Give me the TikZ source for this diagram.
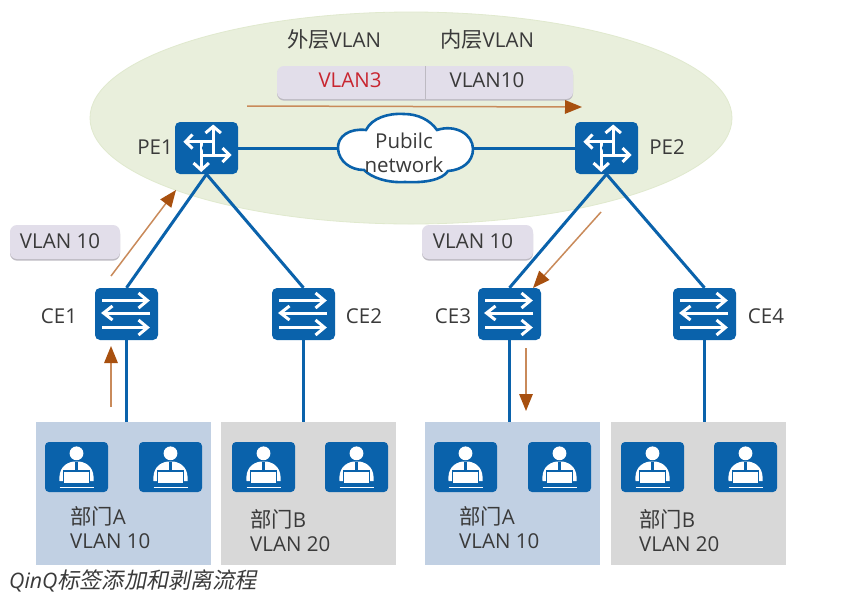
\documentclass[tikz,border=0pt]{standalone}
\usepackage{fontspec}
\setmainfont{Open Sans}
\newfontfamily\cjk[AutoFakeSlant=0.2,Scale=1.04]{Noto Sans CJK SC}
\usetikzlibrary{arrows.meta,shapes.geometric}
\definecolor{hwblue}{HTML}{0A62AB}
\definecolor{flow}{HTML}{A8500F}
\definecolor{flowlight}{HTML}{C98A5A}
\definecolor{tagfill}{HTML}{E2DEEA}
\definecolor{tagshade}{HTML}{BDBAC2}
\definecolor{txt}{HTML}{3A3A3A}
\tikzset{
  x=1pt,y=-1pt,
  dev/.style={draw=none,fill=hwblue,rounded corners=5pt,minimum width=63pt,minimum height=52pt,inner sep=0pt},
  userbox/.style={draw=none,fill=hwblue,rounded corners=4pt,minimum width=63pt,minimum height=50pt,inner sep=0pt},
  link/.style={draw=hwblue,line width=3pt},
  lbl/.style={text=txt,font=\fontsize{20.5}{24}\selectfont,inner sep=0pt},
  lblleft/.style={lbl,anchor=west,align=left},
  tag/.style={draw=none,fill=tagfill,rounded corners=7pt,inner sep=0pt,
    preaction={fill=tagshade,transform canvas={yshift=-1.6pt}}},
  dept/.style={draw=none,minimum width=175pt,minimum height=143pt,inner sep=0pt},
  flowarrow/.style={draw=flowlight,line width=1.5pt,-{Triangle[length=17pt,width=13.5pt,color=flow]}},
  iconline/.style={draw=white,line width=3pt},
  pics/router/.style={code={
    \draw[iconline,line join=miter] (6.7,-21)--(6.7,7);
    \draw[iconline] (-5.3,-5)--(-5.3,22);
    \draw[iconline] (-21,-6.3)--(7,-6.3);
    \draw[iconline] (-5.3,7)--(23,7);
    \draw[iconline] (-1,-15)--(6.7,-21.5)--(14.4,-15);
    \draw[iconline] (-13,15)--(-5.3,22)--(2.4,15);
    \draw[iconline] (-14,-13.5)--(-21,-6.3)--(-14,0.5);
    \draw[iconline] (16,0)--(23,7)--(16,14);
    \fill[hwblue] (0,0) circle (4.6pt);
  }},
  pics/switchicon/.style={code={
    \draw[iconline] (-24.5,-13.5)--(20,-13.5);
    \draw[iconline] (12,-21)--(21,-13.5)--(12,-6);
    \draw[iconline] (23.5,-1)--(-22,-1);
    \draw[iconline] (-14,-8)--(-23,-1)--(-14,6);
    \draw[iconline] (-24.5,13.5)--(20,13.5);
    \draw[iconline] (12,6)--(21,13.5)--(12,21);
  }},
  pics/usericon/.style={code={
    \fill[white] (0,-13.7) circle (6.9pt);
    \fill[white] (-17,14) .. controls (-18,2) and (-12,-4) .. (-3,-5.5) -- (3,-5.5)
       .. controls (12,-4) and (18,2) .. (17,14) -- cycle;
    \fill[hwblue] (-1.2,-5.5) rectangle (1.2,4);
    \draw[hwblue,line width=1.2pt,fill=white] (-13,4)--(-13,17)--(13,17)--(13,4)--cycle;
    \draw[white,line width=1.2pt] (-17,20.5)--(17,20.5);
  }},
}
\begin{document}
\begin{tikzpicture}
\useasboundingbox (0,0) rectangle (848,595);
\fill[white] (0,0) rectangle (848,595);
% provider ellipse
\node[draw={rgb,255:red,224;green,233;blue,206},fill={rgb,255:red,233;green,239;blue,220},line width=0.8pt,
  ellipse,minimum width=642pt,minimum height=212pt,inner sep=0pt] (sp) at (411,118) {};
% departments
\node[dept,fill={rgb,255:red,193;green,208;blue,227}] (deptA) at (123.5,493.5) {};
\node[dept,fill={rgb,255:red,216;green,216;blue,216}] (deptB) at (308.5,493.5) {};
\node[dept,fill={rgb,255:red,193;green,208;blue,227}] (deptC) at (512,493.5) {};
\node[dept,fill={rgb,255:red,216;green,216;blue,216}] (deptD) at (698,493.5) {};
% devices and links
\node[dev] (PE1) at (206.5,148) {};
\node[dev] (PE2) at (606.5,148) {};
\node[dev] (CE1) at (126.5,314) {};
\node[dev] (CE2) at (303.5,314) {};
\node[dev] (CE3) at (509.5,314) {};
\node[dev] (CE4) at (704.5,314) {};
\node[minimum width=135pt,minimum height=68pt,inner sep=0pt] (net) at (405.5,148) {};
\draw[link] (PE1.east) -- (net.west);
\draw[link] (net.east) -- (PE2.west);
\draw[hwblue,fill=white,line width=2.6pt]
  (338,149) .. controls (337,136) and (350,128) .. (366,130)
  .. controls (372,118) and (388,113) .. (404,114)
  .. controls (418,114) and (430,120) .. (437,130)
  .. controls (455,124) and (473,134) .. (473,149)
  .. controls (473,162) and (462,170) .. (448,171)
  .. controls (442,180) and (425,183) .. (405,182)
  .. controls (388,183) and (372,178) .. (364,170)
  .. controls (350,170) and (339,161) .. (338,149) -- cycle;
\node[lbl,align=center] (nettext) at (404,153) {Pubilc\\network};
\draw[link] (PE1.south) -- (CE1.north);
\draw[link] (PE1.south) -- (CE2.north);
\draw[link] (PE2.south) -- (CE3.north);
\draw[link] (PE2.south) -- (CE4.north);
\draw[link] (CE1.south) -- (CE1.south |- deptA.north);
\draw[link] (CE2.south) -- (CE2.south |- deptB.north);
\draw[link] (CE3.south) -- (CE3.south |- deptC.north);
\draw[link] (CE4.south) -- (CE4.south |- deptD.north);
% device icons
\pic at (PE1) {router};
\pic at (PE2) {router};
\pic at (CE1) {switchicon};
\pic at (CE2) {switchicon};
\pic at (CE3) {switchicon};
\pic at (CE4) {switchicon};
% users
\foreach \n/\x in {ua/76.5,ub/170.5,uc/263.5,ud/356.5,ue/465.5,uf/559.5,ug/652.5,uh/745.5}{
  \node[userbox] (\n) at (\x,467) {};
  \pic at (\n) {usericon};
}
% tags
\node[tag,minimum width=296pt,minimum height=33pt] (tagtop) at (425,82.5) {};
\draw[tagshade,line width=1pt] (tagtop.north) -- (tagtop.south);
\node[tag,minimum width=110pt,minimum height=34pt] (tagl) at (65,242) {};
\node[tag,minimum width=111pt,minimum height=34pt] (tagr) at (477.5,242) {};
% flow arrows
\coordinate (a1) at (247,106); \coordinate (a2) at (582,107);
\coordinate (b1) at (111,276); \coordinate (b2) at (176,190);
\coordinate (c1) at (601,212); \coordinate (c2) at (533,288);
\coordinate (d1) at (526,348); \coordinate (d2) at (526,411);
\coordinate (e1) at (111,407); \coordinate (e2) at (111,346);
\draw[flowarrow] (a1) -- (a2);
\draw[flowarrow] (b1) -- (b2);
\draw[flowarrow] (c1) -- (c2);
\draw[flowarrow] (d1) -- (d2);
\draw[flowarrow] (e1) -- (e2);
% labels
\node[lbl] (lpe1) at (155,147) {PE1};
\node[lbl] (lpe2) at (667,147) {PE2};
\node[lbl] (lce1) at (59,316) {CE1};
\node[lbl] (lce2) at (364,316) {CE2};
\node[lbl] (lce3) at (453,316) {CE3};
\node[lbl] (lce4) at (766,316) {CE4};
\node[lbl] (outer) at (334,39) {{\cjk 外层}VLAN};
\node[lbl] (inner) at (487,39) {{\cjk 内层}VLAN};
\node[lbl,text={rgb,255:red,200;green,37;blue,48}] (v3) at (350,80) {VLAN3};
\node[lbl] (v10) at (487,80) {VLAN10};
\node[lbl] (tl) at (60,241) {VLAN 10};
\node[lbl] (tr) at (473,241) {VLAN 10};
\node[lblleft] (da) at (70,528) {{\cjk 部门}A\\VLAN 10};
\node[lblleft] (db) at (250,531) {{\cjk 部门}B\\VLAN 20};
\node[lblleft] (dc) at (459,528) {{\cjk 部门}A\\VLAN 10};
\node[lblleft] (dd) at (639,531) {{\cjk 部门}B\\VLAN 20};
\node[lblleft,font=\fontsize{21.3}{24}\selectfont] (cap) at (9,581) {\itshape QinQ{\cjk\fontshape{it}\selectfont 标签添加和剥离流程}};
\end{tikzpicture}
\end{document}
